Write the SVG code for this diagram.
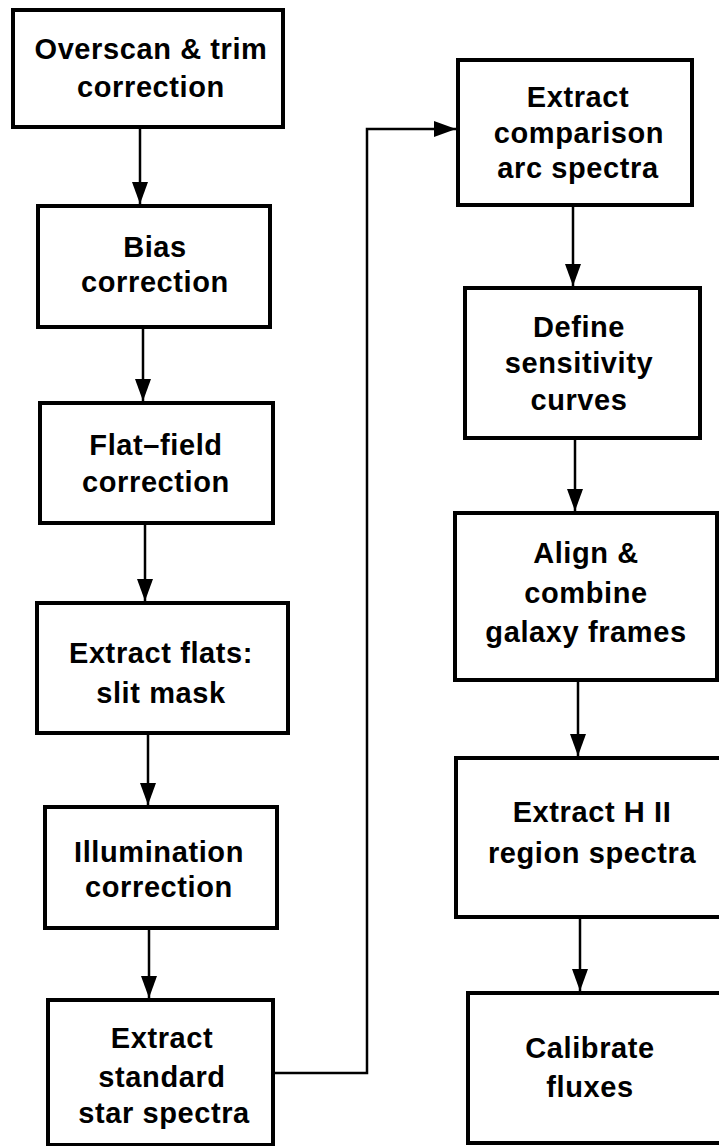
<svg xmlns="http://www.w3.org/2000/svg" width="719" height="1146" viewBox="0 0 719 1146">
<defs>
<marker id="ah" markerUnits="userSpaceOnUse" markerWidth="22" markerHeight="18" viewBox="0 0 22 18" refX="22" refY="9" orient="auto">
<path d="M0,1 L22,9 L0,17 Z" fill="#000"/>
</marker>
</defs>
<style>
.box{fill:#fff;stroke:#000;stroke-width:4}
.t{font-family:"Liberation Sans",Arial,Helvetica,sans-serif;font-weight:bold;font-size:29px;letter-spacing:0.6px;fill:#000;text-anchor:middle}
.c{fill:none;stroke:#000;stroke-width:2.5}
</style>
<rect width="719" height="1146" fill="#fff"/>
<g id="connectors">
<line class="c" x1="140" y1="127" x2="140" y2="204" marker-end="url(#ah)"/>
<line class="c" x1="143" y1="327" x2="143" y2="401" marker-end="url(#ah)"/>
<line class="c" x1="145" y1="523" x2="145" y2="601" marker-end="url(#ah)"/>
<line class="c" x1="148" y1="733" x2="148" y2="805" marker-end="url(#ah)"/>
<line class="c" x1="149" y1="928" x2="149" y2="998" marker-end="url(#ah)"/>
<polyline class="c" points="275,1073 367,1073 367,129 456,129" marker-end="url(#ah)"/>
<line class="c" x1="573" y1="205" x2="573" y2="286" marker-end="url(#ah)"/>
<line class="c" x1="575" y1="438" x2="575" y2="511" marker-end="url(#ah)"/>
<line class="c" x1="578" y1="680" x2="578" y2="756" marker-end="url(#ah)"/>
<line class="c" x1="580" y1="917" x2="580" y2="991" marker-end="url(#ah)"/>
</g>
<g id="n1"><rect class="box" x="13" y="10" width="270" height="117"/>
<text class="t" x="151" y="59">Overscan &amp; trim</text><text class="t" x="151" y="97">correction</text></g>
<g id="n2"><rect class="box" x="38" y="206" width="232" height="121"/>
<text class="t" x="155" y="257">Bias</text><text class="t" x="155" y="292">correction</text></g>
<g id="n3"><rect class="box" x="40" y="403" width="233" height="120"/>
<text class="t" x="156" y="455">Flat–field</text><text class="t" x="156" y="492">correction</text></g>
<g id="n4"><rect class="box" x="37" y="603" width="251" height="130"/>
<text class="t" x="161" y="663">Extract flats:</text><text class="t" x="161" y="703">slit mask</text></g>
<g id="n5"><rect class="box" x="45" y="807" width="232" height="121"/>
<text class="t" x="159" y="862">Illumination</text><text class="t" x="159" y="897">correction</text></g>
<g id="n6"><rect class="box" x="48" y="1000" width="225" height="145"/>
<text class="t" x="162" y="1048">Extract</text><text class="t" x="162" y="1087">standard</text><text class="t" x="164" y="1123">star spectra</text></g>
<g id="n7"><rect class="box" x="458" y="60" width="234" height="145"/>
<text class="t" x="578" y="107">Extract</text><text class="t" x="579" y="143">comparison</text><text class="t" x="578" y="178">arc spectra</text></g>
<g id="n8"><rect class="box" x="465" y="288" width="235" height="150"/>
<text class="t" x="579" y="337">Define</text><text class="t" x="579" y="373">sensitivity</text><text class="t" x="579" y="410">curves</text></g>
<g id="n9"><rect class="box" x="455" y="513" width="262" height="167"/>
<text class="t" x="586" y="563">Align &amp;</text><text class="t" x="586" y="603">combine</text><text class="t" x="586" y="642">galaxy frames</text></g>
<g id="n10"><rect class="box" x="456" y="758" width="268" height="159"/>
<text class="t" x="592" y="822">Extract H II</text><text class="t" x="592" y="863">region spectra</text></g>
<g id="n11"><rect class="box" x="468" y="993" width="256" height="150"/>
<text class="t" x="590" y="1058">Calibrate</text><text class="t" x="590" y="1097">fluxes</text></g>
</svg>
